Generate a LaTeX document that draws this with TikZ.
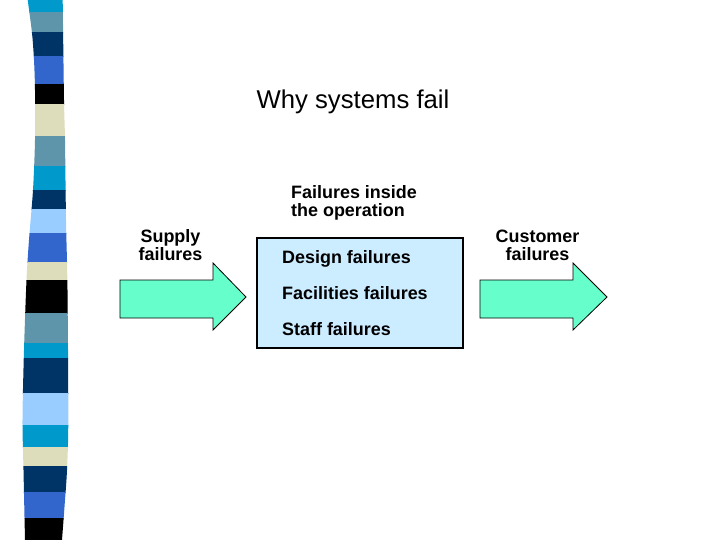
\documentclass[tikz,border=0pt]{standalone}
\usepackage{fontspec}
\setmainfont{Liberation Sans}
\definecolor{bcyan}{HTML}{0099CC}
\definecolor{bsteel}{HTML}{5F95AB}
\definecolor{bnavy}{HTML}{003366}
\definecolor{broyal}{HTML}{3366CC}
\definecolor{bbeige}{HTML}{DDDDBB}
\definecolor{blight}{HTML}{99CCFF}
\definecolor{arrowfill}{HTML}{66FFCC}
\definecolor{boxfill}{HTML}{CCECFF}
\begin{document}
\begin{tikzpicture}[x=1bp,y=-1bp,
  lbl/.style={font=\fontsize{18}{18.5}\selectfont\bfseries, inner sep=0pt},
  ttl/.style={font=\fontsize{25.8}{30}\selectfont, inner sep=0pt},
  fatarrow/.style={draw=black, line width=0.8bp, fill=arrowfill, line join=miter}]
\useasboundingbox (0,0) rectangle (720,540);
% decorative striped bar
\begin{scope}
\clip plot[smooth] coordinates {(27.7,0)(32,33)(34,60)(35,90)(35,140)(33,190)(29,240)(26.5,280)(24,350)(22.5,420)(23.5,470)(25,540)}
  -- plot[smooth] coordinates {(62,540)(65,500)(67,470)(68.3,420)(67.5,290)(66,220)(65,140)(64,100)(62.7,0)} -- cycle;
\foreach \a/\b/\c in {0/12/bcyan, 12/32/bsteel, 32/56/bnavy, 56/84/broyal, 84/104/black,
  104/136/bbeige, 136/166/bsteel, 166/190/bcyan, 190/209/bnavy, 209/233/blight,
  233/262/broyal, 262/280/bbeige, 280/313/black, 313/343/bsteel, 343/358/bcyan,
  358/393/bnavy, 393/425/blight, 425/447/bcyan, 447/466/bbeige, 466/492/bnavy,
  492/518/broyal, 518/541/black}
  \fill[\c] (0,\a) rectangle (100,\b+0.6);
\end{scope}
% title
\node[ttl, anchor=base] (title) at (353,108.5) {Why systems fail};
% central box
\node[draw=black, line width=1.6bp, fill=boxfill, minimum width=206bp, minimum height=110bp,
  anchor=north west, inner sep=0pt] (box) at (256,237) {};
\node[lbl, anchor=base west, align=left] (inside) at (291,217) {Failures inside\\the operation};
\node[lbl, anchor=base west] (design) at (282,263.3) {Design failures};
\node[lbl, anchor=base west] (facil) at (282,299.3) {Facilities failures};
\node[lbl, anchor=base west] (staff) at (282,335) {Staff failures};
% arrows
\draw[fatarrow] (120,280) -- (213,280) -- (213,263) -- (246,297) -- (213,330) -- (213,318) -- (120,318) -- cycle;
\draw[fatarrow] (480,280) -- (573,280) -- (573,263) -- (607,297) -- (573,330) -- (573,318) -- (480,318) -- cycle;
\node[lbl, anchor=base, align=center] (supply) at (170.5,260.5) {Supply\\failures};
\node[lbl, anchor=base, align=center] (customer) at (537.5,260.5) {Customer\\failures};
\end{tikzpicture}
\end{document}
